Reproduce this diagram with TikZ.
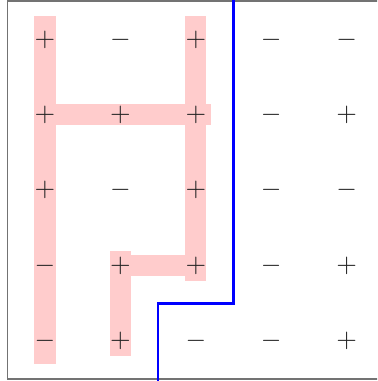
\documentclass[tikz,border=0pt]{standalone}
\begin{document}
\begin{tikzpicture}[x=1cm,y=1cm,
  bar/.style={fill=red!20,draw=none},
  frame/.style={draw=black!55,line width=0.6pt},
  cut/.style={draw=blue,line width=1pt},
  sign/.style={inner sep=0pt,text=black!85}]
\useasboundingbox (-0.597,-0.529) rectangle (4.403,4.524);
\clip (-0.597,-0.529) rectangle (4.403,4.524);
\draw[frame] (-0.5,-0.5) rectangle (4.5,4.51);
% pink paths
\fill[bar] (-0.14,-0.3) rectangle (0.14,4.31);
\fill[bar] (1.86,0.8) rectangle (2.14,4.31);
\fill[bar] (0,2.86) rectangle (2.2,3.14);
\fill[bar] (1,0.86) rectangle (2,1.14);
\fill[bar] (0.86,-0.2) rectangle (1.14,1.2);
% blue cut
\coordinate (b1) at (2.5,4.6);
\coordinate (b2) at (2.5,0.5);
\coordinate (b3) at (1.5,0.5);
\coordinate (b4) at (1.5,-0.6);
\draw[cut] (b1) -- (b2) -- (b3) -- (b4);
% signs
\foreach \row/\signs in {0/{+,-,+,-,-},1/{+,+,+,-,+},2/{+,-,+,-,-},3/{-,+,+,-,+},4/{-,+,-,-,+}}{
  \foreach \s [count=\c from 0] in \signs {
    \node[sign] (n-\row-\c) at (\c,4-\row) {$\s$};
  }
}
\end{tikzpicture}
\end{document}
